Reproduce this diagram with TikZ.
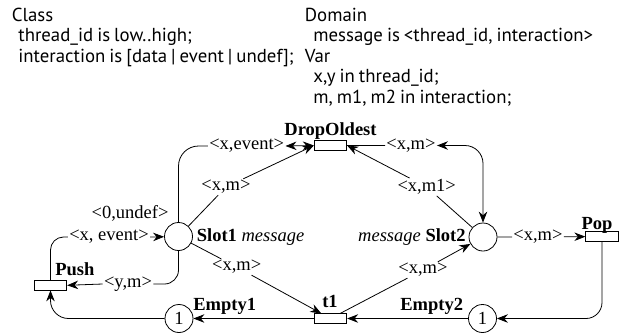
\documentclass[tikz,border=0pt]{standalone}
\usepackage{fontspec}
\setmainfont{Liberation Serif}
\newfontfamily\declfont[WordSpace=0.8]{PT Sans}
\usetikzlibrary{arrows.meta}

\begin{document}
\begin{tikzpicture}[x=1pt,y=-1pt,
  line width=0.8pt,
  tip/.tip={Stealth[length=11pt,width=8.5pt]},
  decl/.style={font=\declfont\fontsize{18.8}{22}\selectfont, anchor=base west, inner sep=0pt},
  place/.style={circle, draw, minimum size=28pt, inner sep=0pt, font=\fontsize{18.5}{20}\selectfont},
  trans/.style={rectangle, draw, minimum width=32.5pt, minimum height=9.3pt, inner sep=0pt},
  pname/.style={font=\bfseries\fontsize{18.5}{20}\selectfont, inner sep=0pt},
  arclab/.style={font=\fontsize{18.5}{20}\selectfont, inner sep=1pt},
  arc/.style={-tip},
  biarc/.style={tip-tip}
]
\fill[white] (0,0) rectangle (627,335);
\useasboundingbox (0,0) rectangle (627,335);

% declarations
\node[decl] (c1) at (11.5,21) {Class};
\node[decl] (c2) at (18,41.5) {thread\_id is low..high;};
\node[decl] (c3) at (18,62) {interaction is [data | event | undef];};
\node[decl] (d1) at (304.5,21) {Domain};
\node[decl] (d2) at (313,41.5) {message is <thread\_id, interaction>};
\node[decl] (d3) at (304.5,62) {Var};
\node[decl] (d4) at (313,82.5) {x,y in thread\_id;};
\node[decl] (d5) at (313,103) {m, m1, m2 in interaction;};

% places
\node[place] (slot1) at (178.5,236.5) {};
\node[anchor=base west, font=\fontsize{18.5}{20}\selectfont, inner sep=0pt] (slot1name) at (196.5,241) {\textbf{Slot1} \textit{message}};
\node[place] (slot2) at (483,237) {};
\node[anchor=base east, font=\fontsize{18.5}{20}\selectfont, inner sep=0pt] (slot2name) at (466,241) {\textit{message} \textbf{Slot2}};
\node[place] (empty1) at (179,318.5) {1};
\node[pname, anchor=base west] (e1name) at (193,310.5) {Empty1};
\node[place] (empty2) at (482.5,318.5) {1};
\node[pname, anchor=base east] (e2name) at (463.5,310.5) {Empty2};

% transitions
\node[trans] (drop) at (330.5,145.5) {};
\node[pname, anchor=base] (dropname) at (330.5,135) {DropOldest};
\node[trans] (pop) at (602,236.5) {};
\node[pname, anchor=base] (popname) at (597,229) {Pop};
\node[trans] (push) at (50.5,285.3) {};
\node[pname, anchor=base west] (pushname) at (55,275) {Push};
\node[trans] (t1) at (330.5,318.5) {};
\node[pname, anchor=base] (t1name) at (330,307) {t1};

% arc inscriptions
\node[arclab] (lxevent) at (246.7,146) {<x,event>};
\node[arclab] (l0undef) at (130,213) {<0,undef>};
\node[arclab] (ldrop1) at (226,187) {<x,m>};
\node[arclab] (ldrop2) at (426.7,187) {<x,m1>};
\node[arclab] (ltopr) at (411,145.5) {<x,m>};
\node[arclab] (ls1t1) at (236.7,267) {<x,m>};
\node[arclab] (lt1s2) at (423,270) {<x,m>};
\node[arclab] (lpop) at (538,237) {<x,m>};
\node[arclab] (lpush) at (109,237) {<x, event>};
\node[arclab] (lym) at (128,284) {<y,m>};

% arcs
\draw[biarc, rounded corners=20pt] (slot1.north) |- (lxevent.west) (lxevent.east) -- (drop.west);
\draw[biarc, rounded corners=18pt] (drop.east) -- (ltopr.west) (ltopr.east) -| (slot2.north);
\draw[arc] (slot1) -- (ldrop1) -- (drop.west);
\draw[arc] (slot2) -- (ldrop2) -- (drop.east);
\draw[arc] (slot1) -- (ls1t1) -- (t1);
\draw[arc] (t1) -- (lt1s2) -- (slot2);
\draw[arc] (slot2) -- (lpop) -- (pop);
\draw[arc, rounded corners=16pt] (pop.south) |- (empty2);
\draw[arc] (empty2) -- (t1);
\draw[arc] (t1) -- (empty1);
\draw[arc, rounded corners=18pt] (empty1) -| (push.south);
\draw[arc, rounded corners=13pt] (push.north) |- (lpush.west) (lpush.east) -- (slot1);
\draw[arc, rounded corners=14pt] (slot1.south) |- (lym.east) (lym.west) -- (push.east);
\end{tikzpicture}
\end{document}
